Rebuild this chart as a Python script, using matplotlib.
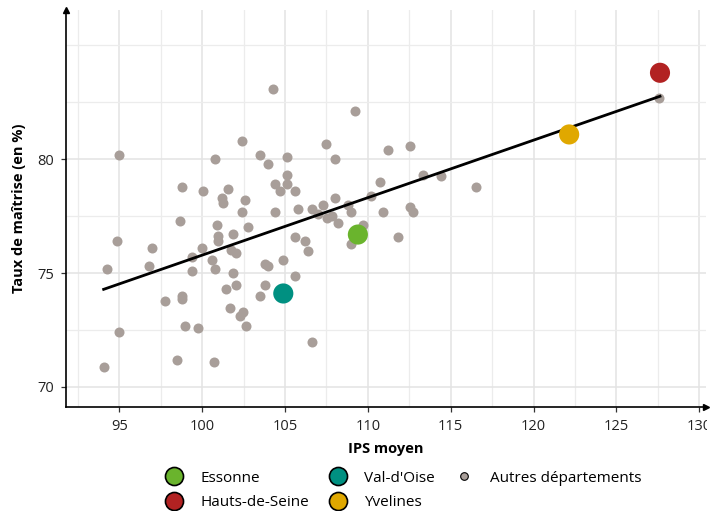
import numpy as np
import matplotlib
matplotlib.use("Agg")
import matplotlib.pyplot as plt
from matplotlib.lines import Line2D
from matplotlib.ticker import MultipleLocator, FixedLocator
from matplotlib.transforms import Bbox, TransformedBbox

plt.rcParams['font.family'] = ['Open Sans', 'DejaVu Sans']

# Données : autres départements (IPS moyen, taux de maîtrise)
ips_autres = [94.06, 94.28, 94.88, 94.96, 94.98, 96.77, 96.97, 97.77, 98.48, 98.67,
              98.78, 98.78, 98.78, 98.98, 99.38, 99.38, 99.78, 99.98, 100.08, 100.58,
              100.69, 100.78, 100.78, 100.89, 100.96, 100.96, 101.19, 101.29, 101.47, 101.59,
              101.69, 101.77, 101.87, 101.87, 102.07, 102.07, 102.31, 102.39, 102.39, 102.47,
              102.59, 102.63, 102.77, 103.49, 103.49, 103.80, 104.00, 103.80, 104.00, 104.30,
              104.40, 104.40, 104.70, 104.88, 105.10, 105.10, 105.10, 105.60, 105.60, 105.60,
              105.81, 106.20, 106.41, 106.61, 106.61, 107.01, 107.31, 107.49, 107.51, 107.81,
              108.01, 108.01, 108.22, 108.82, 109.00, 109.00, 109.20, 109.72, 110.22, 110.72,
              110.93, 111.23, 111.81, 112.53, 112.53, 112.71, 113.31, 114.42, 116.53, 127.57]
taux_autres = [70.89, 75.19, 76.39, 72.39, 80.19, 75.29, 76.08, 73.79, 71.18, 77.29,
               78.79, 73.98, 73.86, 72.68, 75.72, 75.08, 72.58, 76.10, 78.60, 75.58,
               71.08, 80.00, 75.19, 77.10, 76.63, 76.41, 78.30, 78.08, 74.29, 78.69,
               73.48, 76.01, 76.70, 74.99, 75.89, 74.49, 73.09, 80.81, 77.69, 73.30,
               78.20, 72.68, 77.04, 80.19, 73.98, 75.41, 75.29, 74.48, 79.78, 83.10,
               78.90, 77.69, 78.60, 75.58, 80.09, 79.31, 78.90, 78.60, 76.60, 74.89,
               77.81, 76.39, 75.98, 77.81, 71.98, 77.58, 77.99, 80.69, 77.40, 77.51,
               80.00, 78.30, 77.19, 77.98, 77.69, 76.29, 82.10, 77.11, 78.39, 79.01,
               77.69, 80.40, 76.60, 80.60, 77.89, 77.69, 79.31, 79.28, 78.79, 82.69]

# Départements mis en avant
departements = ['Essonne', 'Hauts-de-Seine', "Val-d'Oise", 'Yvelines']
ips_dep = [109.40, 127.63, 104.90, 122.15]
taux_dep = [76.69, 83.80, 74.10, 81.09]
couleurs = ['#6ab42d', '#b22222', '#009081', '#e0a800']
gris = '#a89e99'

fig = plt.figure(figsize=(7.24, 5.11), dpi=100)
ax = fig.add_axes([0.0912, 0.2035, 0.8838, 0.7765])

# Droite de régression sur l'ensemble des départements
x_all = np.array(ips_autres + ips_dep)
y_all = np.array(taux_autres + taux_dep)
pente, origine = np.polyfit(x_all, y_all, 1)
xs = np.array([x_all.min(), x_all.max()])

ax.scatter(ips_autres, taux_autres, s=52, color=gris, linewidths=0, zorder=3)
ax.plot(xs, origine + pente * xs, color='black', lw=2, zorder=4)
ax.scatter(ips_dep, taux_dep, s=210, c=couleurs, linewidths=0, zorder=5)

# Axes
ax.set_xlim(91.79, 130.4)
ax.set_ylim(69.11, 86.55)
ax.xaxis.set_major_locator(MultipleLocator(5))
ax.xaxis.set_minor_locator(MultipleLocator(2.5))
ax.yaxis.set_major_locator(FixedLocator([70, 75, 80]))
ax.yaxis.set_minor_locator(FixedLocator([72.5, 77.5, 82.5, 85]))
ax.grid(which='major', color='#e3e3e3', lw=1.1, zorder=0)
ax.grid(which='minor', color='#ececec', lw=0.9, zorder=0)
ax.set_axisbelow(True)
ax.tick_params(which='major', length=3.5, width=0.9, color='#333333',
               labelsize=10.5, labelcolor='#222222', pad=5)
ax.tick_params(which='minor', length=0)
for s in ['top', 'right']:
    ax.spines[s].set_visible(False)
for s in ['left', 'bottom']:
    ax.spines[s].set_linewidth(1.2)
ax.plot(1, 69.11, '>k', ms=5, transform=ax.get_yaxis_transform(), clip_on=False)
ax.plot(91.79, 1, '^k', ms=5, transform=ax.get_xaxis_transform(), clip_on=False)

clip = TransformedBbox(Bbox([[0, 0], [707 / 724, 1]]), fig.transFigure)
for lab in ax.get_xticklabels():
    lab.set_clip_box(clip)
    lab.set_clip_on(True)

ax.set_xlabel('IPS moyen', fontsize=10.5, fontweight='bold', labelpad=6)
ax.set_ylabel('Taux de maîtrise (en %)', fontsize=10.5, fontweight='bold', labelpad=8)

# Légende
handles = [Line2D([], [], marker='o', ls='', ms=13, markerfacecolor=c,
                  markeredgecolor='black', markeredgewidth=1.2)
           for c in couleurs]
handles.append(Line2D([], [], marker='o', ls='', ms=5.5, markerfacecolor=gris,
                      markeredgecolor='black', markeredgewidth=0.8))
labels = departements + ['Autres départements']
fig.legend(handles, labels, ncol=3, loc='lower center', bbox_to_anchor=(0.555, -0.025),
           frameon=False, fontsize=11, handletextpad=0.9, columnspacing=1.1,
           labelspacing=0.62, handlelength=1.6)

plt.savefig('out.png', dpi=100)
